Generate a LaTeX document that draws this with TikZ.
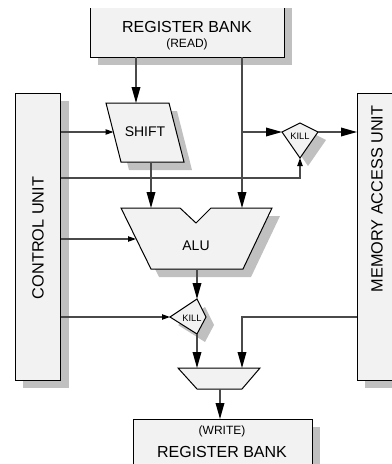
\documentclass[tikz,border=0pt]{standalone}
\usepackage{fontspec}
\setmainfont{Liberation Sans}
\usetikzlibrary{arrows.meta,shadows,fit}
\definecolor{boxfill}{HTML}{F2F2F2}
\definecolor{shade}{HTML}{C0C0C0}
\definecolor{wire}{HTML}{4A4A4A}

\begin{document}
\begin{tikzpicture}[x=0.75pt,y=-0.75pt,
  sh/.style={drop shadow={shadow xshift=6pt,shadow yshift=-6pt,fill=shade,opacity=1,draw=none}},
  box/.style={draw=black,fill=boxfill,line width=0.75pt,sh},
  plain/.style={draw=black,fill=boxfill,line width=0.75pt},
  rect/.style={box,inner sep=0pt,outer sep=0pt},
  wirebase/.style={draw=wire,line width=0.9pt},
  big/.style={wirebase,-{Triangle[length=12pt,width=6.5pt,fill=black,color=black]}},
  small/.style={wirebase,-{Triangle[length=6pt,width=4pt,fill=black,color=black]}},
  big label/.style={font=\fontsize{12}{14}\selectfont},
  sub label/.style={font=\fontsize{9}{11}\selectfont},
  unit label/.style={font=\fontsize{10.5}{12}\selectfont},
  kill label/.style={font=\fontsize{7}{8}\selectfont,inner sep=0pt},
  side label/.style={font=\fontsize{12.2}{14}\selectfont,rotate=90}]

\useasboundingbox (0,0) rectangle (392,464);

% ---- register bank (read), running off the top edge ----
\begin{scope}
  \clip (0,8) rectangle (392,80);
  \node[rect,fit={(90,-12) (284,57)}] (rbr) {};
\end{scope}
\node[big label] (rbrT) at (187,27) {REGISTER BANK};
\node[sub label] (rbrS) at (187,44) {(READ)};

% ---- control unit ----
\node[rect,fit={(15,93) (60.5,380)}] (cu) {};
\node[side label] (cuT) at (38,238) {CONTROL UNIT};

% ---- memory access unit ----
\node[rect,fit={(357,93) (410,380)}] (mau) {};
\node[side label] (mauT) at (377,199) {MEMORY ACCESS UNIT};

% ---- register bank (write) ----
\node[rect,fit={(133,419) (312,480)}] (rbw) {};
\node[sub label] (rbwS) at (222,431) {(WRITE)};
\node[big label] (rbwT) at (222,452) {REGISTER BANK};

% ---- shifter ----
\draw[box] (106,103) -- (169,103) -- (184,162) -- (121,162) -- cycle;
\node[unit label] (shift) at (145,132) {SHIFT};
\coordinate (shiftIn) at (136,103);
\coordinate (shiftW) at (113.5,132);
\coordinate (shiftOut) at (151,162);

% ---- ALU ----
\draw[box] (121,208) -- (180,208) -- (196,223) -- (211,208) -- (272,208)
  -- (243,269) -- (151,269) -- cycle;
\node[unit label] (alu) at (196,246) {ALU};
\coordinate (aluInL) at (151,208);
\coordinate (aluInR) at (242,208);
\coordinate (aluW) at (136,239);
\coordinate (aluOut) at (197,269);

% ---- upper kill gate ----
\draw[box] (300,123) -- (318,132) -- (300,158) -- (282,132) -- cycle;
\node[kill label] (k1) at (300,136) {KILL};
\coordinate (k1W) at (282,132);
\coordinate (k1E) at (318,132);
\coordinate (k1S) at (300,158);

% ---- lower kill gate ----
\draw[box] (197,299) -- (206,317) -- (197,334) -- (170,317) -- cycle;
\node[kill label] (k2) at (192,318) {KILL};
\coordinate (k2N) at (197,299);
\coordinate (k2W) at (170,317);
\coordinate (k2S) at (197,334);

% ---- write-back multiplexer ----
\draw[plain] (178,368) -- (260,368) -- (242,389) -- (197,389) -- cycle;
\coordinate (muxIn) at (219,368);
\coordinate (muxOut) at (220,389);

% ---- wiring ----
\coordinate (ctlBend) at (300,178);
\coordinate (memBend) at (242,317);

\draw[big] (rbr.south -| shiftIn) -- (shiftIn);
\draw[big] (rbr.south -| aluInR) -- (aluInR);
\draw[big] (aluInR |- k1W) -- (k1W);
\draw[big] (k1E) -- (k1E -| mau.west);
\draw[small] (cu.east |- shiftW) -- (shiftW);
\draw[small] (cu.east |- ctlBend) -- (ctlBend) -- (k1S);
\draw[big] (shiftOut) -- (aluInL);
\draw[small] (cu.east |- aluW) -- (aluW);
\draw[big] (aluOut) -- (k2N);
\draw[small] (cu.east |- k2W) -- (k2W);
\draw[big] (k2S) -- (k2S |- muxIn);
\draw[big] (mau.west |- memBend) -- (memBend) -- (memBend |- muxIn);
\draw[big] (muxOut) -- (muxOut |- rbw.north);

\end{tikzpicture}
\end{document}
